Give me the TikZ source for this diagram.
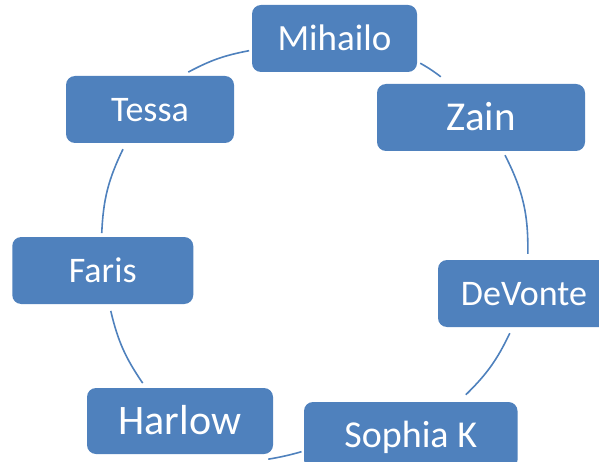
\documentclass[tikz,border=0pt]{standalone}
\usepackage{fontspec}
\setmainfont{Carlito}
\usetikzlibrary{calc}
\definecolor{accblue}{RGB}{79,129,189}
\begin{document}
\begin{tikzpicture}[x=1pt,y=1pt,
  cbox/.style={fill=accblue, rounded corners=9pt, text=white, inner sep=0pt,
               minimum height=67pt, text depth=0pt},
  link/.style={draw=accblue, line width=1.6pt}]
\useasboundingbox (0,0) rectangle (599,461);
\clip (0,0) rectangle (599,461);
% nodes
\node[cbox, minimum width=165pt, font=\fontsize{37}{37}\selectfont, text height=23.8pt] (mih) at (334.5,422.5) {Mihailo};
\node[cbox, minimum width=208pt, font=\fontsize{41}{41}\selectfont, text height=26.4pt] (zain) at (481,343.5) {Zain};
\node[cbox, minimum width=172pt, font=\fontsize{36}{36}\selectfont, text height=23.2pt] (dev) at (524,167.5) {DeVonte};
\node[cbox, minimum width=213.5pt, font=\fontsize{38}{38}\selectfont, text height=24.5pt] (soph) at (410.75,25.5) {Sophia K};
\node[cbox, minimum width=186pt, minimum height=66pt, font=\fontsize{42}{42}\selectfont, text height=27pt] (harl) at (180,40) {Harlow};
\node[cbox, minimum width=181pt, font=\fontsize{36}{36}\selectfont, text height=23.2pt] (faris) at (102.75,190.5) {Faris};
\node[cbox, minimum width=168pt, font=\fontsize{36}{36}\selectfont, text height=23.2pt] (tessa) at (150,351.5) {Tessa};
% connectors (arcs of the cycle)
\draw[link] ($(mih.south east)+(3,9)$) to[bend left=4] ($(zain.north west)+(64,7)$);
\draw[link] ($(zain.south)+(24,-4)$) to[bend left=14] ($(dev.north west)+(90,6)$);
\draw[link] ($(dev.south west)+(72,-6)$) to[bend left=10] ($(soph.north west)+(162,7)$);
\draw[link] ($(soph.west)+(-2.3,-16.2)$) to[bend left=3] ($(harl.south east)+(-5,-5)$);
\draw[link] ($(harl.north)+(-37.3,4.7)$) to[bend left=10.6] ($(faris.south)+(8,-6.7)$);
\draw[link] ($(faris.north)+(-1,3.7)$) to[bend left=11.7] ($(tessa.south)+(-27,-6)$);
\draw[link] ($(tessa.north)+(38.3,3.7)$) to[bend left=8.7] ($(mih.west)+(-2.7,-12.2)$);
\end{tikzpicture}
\end{document}
